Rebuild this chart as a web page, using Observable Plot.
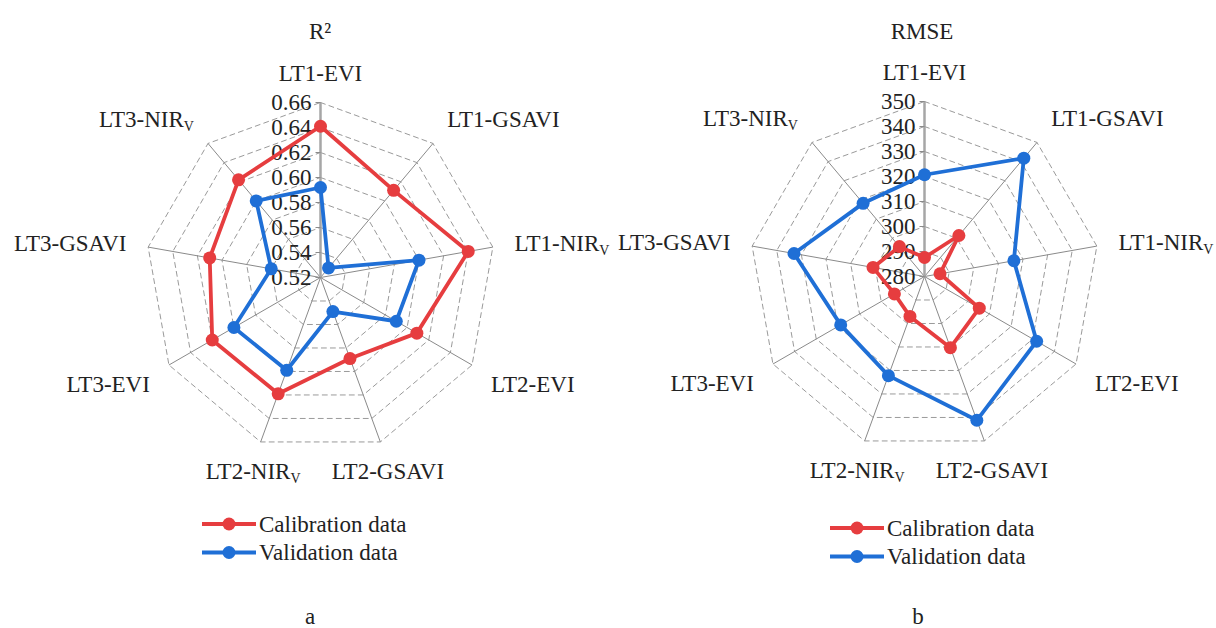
<!DOCTYPE html>
<html>
<head>
<meta charset="utf-8">
<script src="https://cdn.jsdelivr.net/npm/d3@7"></script>
<script src="https://cdn.jsdelivr.net/npm/@observablehq/plot@0.6"></script>
<style>
  body { margin: 0; background: #fff; }
  #figure { display: flex; width: 1216px; height: 628px; background: #fff; }
  #figure svg { overflow: visible; }
  #figure svg text { font-family: "Liberation Serif", "Times New Roman", serif; }
</style>
</head>
<body>
<div id="figure"></div>
<script>
// Vegetation-index models (sensor period + index); "_V" marks a subscript V.
const indices = ["LT1-EVI", "LT1-GSAVI", "LT1-NIR_V", "LT2-EVI", "LT2-GSAVI", "LT2-NIR_V", "LT3-EVI", "LT3-GSAVI", "LT3-NIR_V"];

// R² of each model
const r2Calibration = [0.641, 0.611, 0.640, 0.609, 0.589, 0.619, 0.620, 0.610, 0.622];
const r2Validation  = [0.592, 0.530, 0.600, 0.590, 0.549, 0.599, 0.600, 0.560, 0.600];
const r2Ticks = [0.52, 0.54, 0.56, 0.58, 0.60, 0.62, 0.64, 0.66];

// RMSE of each model
const rmseCalibration = [287.6, 301.4, 286.3, 305.3, 310.3, 297.0, 293.9, 300.9, 295.6];
const rmseValidation  = [320.7, 341.8, 316.3, 331.8, 341.2, 322.2, 318.7, 333.0, 318.2];
const rmseTicks = [280, 290, 300, 310, 320, 330, 340, 350];

const seriesNames = ["Calibration data", "Validation data"];
const seriesColors = ["#e63d3f", "#1f6fd6"];

const FONT = '"Liberation Serif", "Times New Roman", serif';
const FONT_SIZE = 23;
const W = 608, H = 628, R = 175;

// Turn "NAME_X" text into NAME with a subscript X
function applySubscripts(svg) {
  d3.select(svg).selectAll("text").each(function () {
    const t = this.textContent;
    if (!t.includes("_") || this.querySelector("tspan")) return;
    const [main, sub] = t.split("_");
    this.textContent = main;
    d3.select(this).append("tspan")
      .attr("dy", "0.3em")
      .attr("font-size", 14)
      .text(sub);
  });
}

function serifText(sel) {
  return sel.style("font-family", FONT).attr("font-size", FONT_SIZE).attr("fill", "#222");
}

function radar({title, caption, ticks, format, calibration, validation, cx, cy, legendX, legendY, titleX, captionX}) {
  const k = indices.length;
  const angle = (i) => (2 * Math.PI * i) / k;
  const rScale = d3.scaleLinear().domain([ticks[0], ticks[ticks.length - 1]]).range([0, 1]);
  const ux = (i) => Math.sin(angle(i));
  const uy = (i) => Math.cos(angle(i));

  const rings = ticks.slice(1).flatMap((t) => indices.map((name, i) => ({t, i})));
  const spokes = indices.map((name, i) => ({i}));
  const values = [calibration, validation];
  const points = values.flatMap((vals, s) => vals.map((v, i) => ({series: seriesNames[s], s, i, value: v})));

  // spoke labels: anchored by the box corner/edge that faces the chart
  const rl = 197 / R;
  const labels = indices.map((name, i) => ({
    name, i,
    textAnchor: ux(i) > 0.45 ? "start" : ux(i) < -0.45 ? "end" : "middle",
    lineAnchor: uy(i) > 0.45 ? "bottom" : uy(i) < -0.45 ? "top" : "middle"
  }));
  const labelGroups = d3.groups(labels, (d) => d.textAnchor + "|" + d.lineAnchor);
  const labelMarks = labelGroups.map(([key, group]) =>
    Plot.text(group, {
      x: (d) => ux(d.i) * rl,
      y: (d) => uy(d.i) * rl,
      text: "name",
      textAnchor: group[0].textAnchor,
      lineAnchor: group[0].lineAnchor,
      fill: "#222",
      fontSize: FONT_SIZE
    })
  );

  const svg = Plot.plot({
    width: W,
    height: H,
    margin: 0,
    x: {domain: [-cx / R, (W - cx) / R], range: [0, W], axis: null},
    y: {domain: [-(H - cy) / R, cy / R], range: [H, 0], axis: null},
    style: {fontFamily: FONT, fontSize: `${FONT_SIZE}px`, background: "transparent", color: "#222", overflow: "visible"},
    marks: [
      // dashed polygon grid, one ring per tick
      Plot.line(rings, {
        x: (d) => ux(d.i) * rScale(d.t),
        y: (d) => uy(d.i) * rScale(d.t),
        z: "t",
        curve: "linear-closed",
        stroke: "#9a9a9a",
        strokeWidth: 1,
        strokeDasharray: "5,4"
      }),
      // spokes
      Plot.link(spokes.slice(1), {
        x1: () => 0, y1: () => 0,
        x2: (d) => ux(d.i), y2: (d) => uy(d.i),
        stroke: "#8a8a8a",
        strokeWidth: 1
      }),
      // value axis along the first spoke
      Plot.link([0], {
        x1: () => 0, y1: () => 0, x2: () => 0, y2: () => 1,
        stroke: "#a6a6a6",
        strokeWidth: 2.5
      }),
      Plot.link(ticks, {
        x1: () => 0, x2: () => -5 / R,
        y1: (d) => rScale(d), y2: (d) => rScale(d),
        stroke: "#8a8a8a",
        strokeWidth: 1
      }),
      Plot.text(ticks, {
        x: () => 0,
        y: (d) => rScale(d),
        text: (d) => format(d),
        textAnchor: "end",
        dx: -9,
        fill: "#222",
        fontSize: FONT_SIZE
      }),
      ...labelMarks,
      // data polygons
      Plot.line(points, {
        x: (d) => ux(d.i) * rScale(d.value),
        y: (d) => uy(d.i) * rScale(d.value),
        z: "series",
        curve: "linear-closed",
        stroke: (d) => seriesColors[d.s],
        strokeWidth: 3.8
      }),
      Plot.dot(points, {
        x: (d) => ux(d.i) * rScale(d.value),
        y: (d) => uy(d.i) * rScale(d.value),
        r: 6.5,
        fill: (d) => seriesColors[d.s],
        stroke: "none"
      })
    ]
  });

  const s = d3.select(svg);

  serifText(s.append("text"))
    .attr("x", titleX).attr("y", 39)
    .attr("text-anchor", "middle")
    .text(title);

  const lg = s.append("g");
  seriesNames.forEach((name, j) => {
    const y = legendY + j * 28.5;
    lg.append("line")
      .attr("x1", legendX).attr("x2", legendX + 54)
      .attr("y1", y).attr("y2", y)
      .attr("stroke", seriesColors[j]).attr("stroke-width", 3.8);
    lg.append("circle")
      .attr("cx", legendX + 27).attr("cy", y).attr("r", 6.5)
      .attr("fill", seriesColors[j]);
    serifText(lg.append("text"))
      .attr("x", legendX + 57).attr("y", y)
      .attr("dy", "0.34em")
      .attr("text-anchor", "start")
      .text(name);
  });

  serifText(s.append("text"))
    .attr("x", captionX).attr("y", 624)
    .attr("text-anchor", "middle")
    .text(caption);

  applySubscripts(svg);
  return svg;
}

const figure = document.getElementById("figure");
figure.append(radar({
  title: "R²", caption: "a",
  ticks: r2Ticks, format: d3.format(".2f"),
  calibration: r2Calibration, validation: r2Validation,
  cx: 320, cy: 277, legendX: 202, legendY: 524, titleX: 320, captionX: 310
}));
figure.append(radar({
  title: "RMSE", caption: "b",
  ticks: rmseTicks, format: d3.format("d"),
  calibration: rmseCalibration, validation: rmseValidation,
  cx: 316, cy: 276, legendX: 222, legendY: 528, titleX: 314, captionX: 310
}));
</script>
</body>
</html>
